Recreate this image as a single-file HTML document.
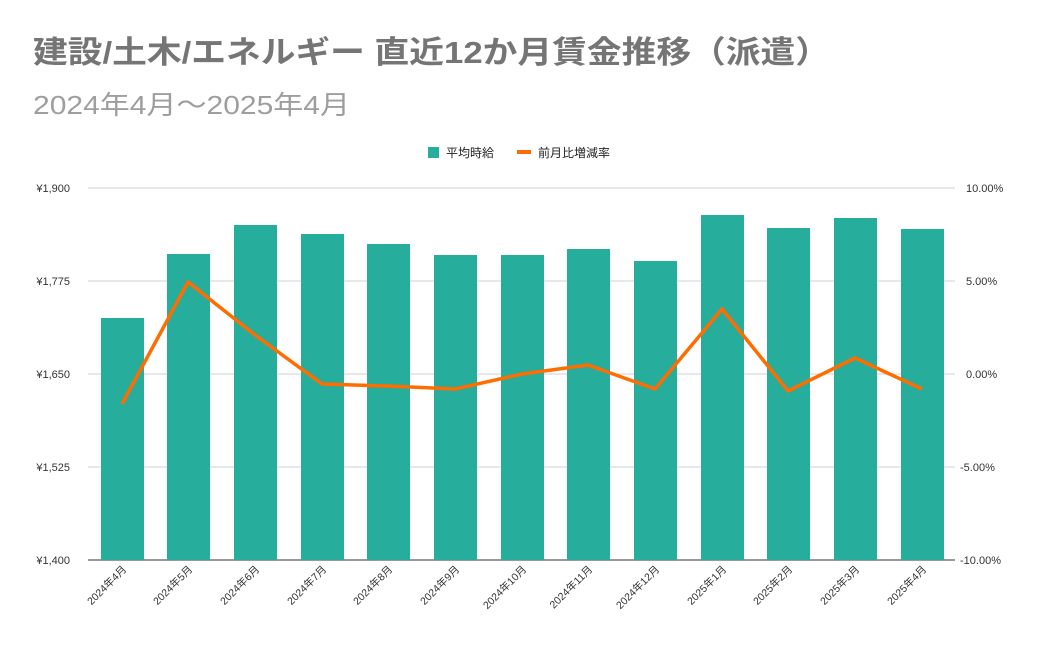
<!DOCTYPE html>
<html><head><meta charset="utf-8"><style>
body{margin:0;background:#fff;width:1051px;height:650px;overflow:hidden;font-family:"Liberation Sans","Noto Sans CJK JP",sans-serif}
</style></head><body>
<svg width="1051" height="650" xmlns="http://www.w3.org/2000/svg" font-family="Liberation Sans, Noto Sans CJK JP, sans-serif">
<text x="33" y="63" font-size="31" font-weight="bold" fill="#757575" textLength="797" lengthAdjust="spacingAndGlyphs">建設/土木/エネルギー 直近12か月賃金推移（派遣）</text>
<text x="33" y="114" font-size="26" fill="#9e9e9e" textLength="317" lengthAdjust="spacingAndGlyphs">2024年4月～2025年4月</text>
<rect x="428" y="147" width="11" height="11" fill="#26ad9b"/>
<text x="446" y="157" font-size="12" fill="#222">平均時給</text>
<rect x="517" y="150" width="14" height="4" fill="#ff6d01"/>
<text x="538" y="157" font-size="12" fill="#222">前月比増減率</text>
<g stroke="#d0d0d0" stroke-width="1">
<line x1="88" y1="188" x2="955" y2="188"/><line x1="88" y1="281" x2="955" y2="281"/>
<line x1="88" y1="374" x2="955" y2="374"/><line x1="88" y1="467" x2="955" y2="467"/>
</g>
<line x1="88" y1="560" x2="955" y2="560" stroke="#333"/>
<g font-size="11" fill="#333" text-anchor="end">
<text x="70" y="192">¥1,900</text><text x="70" y="285">¥1,775</text><text x="70" y="378">¥1,650</text><text x="70" y="471">¥1,525</text><text x="70" y="564">¥1,400</text>
</g>
<g font-size="11" fill="#333">
<text x="966" y="192">10.00%</text><text x="966" y="285">5.00%</text><text x="966" y="378">0.00%</text><text x="960" y="471">-5.00%</text><text x="960" y="564">-10.00%</text>
</g>
<g fill="#26ad9b">
<rect x="101" y="318" width="43" height="242"/>
<rect x="167" y="254" width="43" height="306"/>
<rect x="234" y="225" width="43" height="335"/>
<rect x="301" y="234" width="43" height="326"/>
<rect x="367" y="244" width="43" height="316"/>
<rect x="434" y="255" width="43" height="305"/>
<rect x="501" y="255" width="43" height="305"/>
<rect x="567" y="249" width="43" height="311"/>
<rect x="634" y="261" width="43" height="299"/>
<rect x="701" y="215" width="43" height="345"/>
<rect x="767" y="228" width="43" height="332"/>
<rect x="834" y="218" width="43" height="342"/>
<rect x="901" y="229" width="43" height="331"/>
</g>
<polyline fill="none" stroke="#ff6d01" stroke-width="3.5" stroke-linejoin="round" points="122,404 188,282 255,335 322,384 388,386 455,389 522,374 588,365 655,389 722,309 788,391 855,358 922,389"/>
<g font-size="10.5" fill="#333" text-anchor="end">
<text transform="translate(127,570) rotate(-45)">2024年4月</text>
<text transform="translate(193,570) rotate(-45)">2024年5月</text>
<text transform="translate(260,570) rotate(-45)">2024年6月</text>
<text transform="translate(327,570) rotate(-45)">2024年7月</text>
<text transform="translate(393,570) rotate(-45)">2024年8月</text>
<text transform="translate(460,570) rotate(-45)">2024年9月</text>
<text transform="translate(527,570) rotate(-45)">2024年10月</text>
<text transform="translate(593,570) rotate(-45)">2024年11月</text>
<text transform="translate(660,570) rotate(-45)">2024年12月</text>
<text transform="translate(727,570) rotate(-45)">2025年1月</text>
<text transform="translate(793,570) rotate(-45)">2025年2月</text>
<text transform="translate(860,570) rotate(-45)">2025年3月</text>
<text transform="translate(927,570) rotate(-45)">2025年4月</text>
</g>
</svg>
</body></html>
